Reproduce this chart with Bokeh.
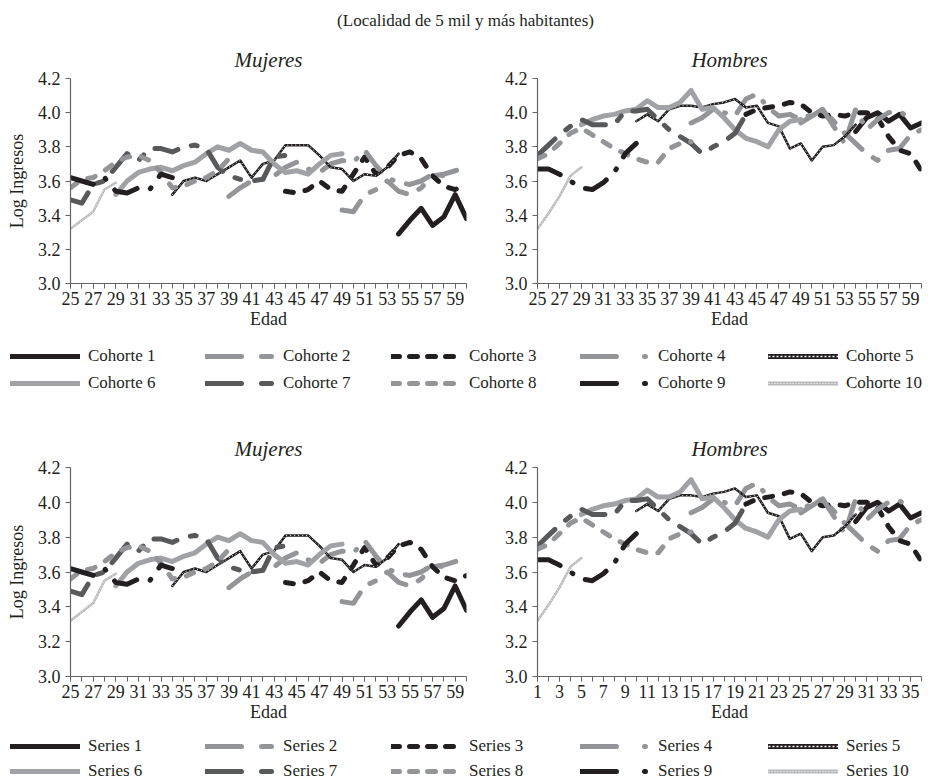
from bokeh.plotting import figure
from bokeh.models import Range1d, FixedTicker, PrintfTickFormatter, Legend, LegendItem, Label
from bokeh.layouts import column, row
from bokeh.embed import file_html
from bokeh.resources import INLINE

FONT = "Liberation Serif"
BLACK = "#231f20"
DGRAY = "#58595b"
LGRAY = "#939598"
LGRAY2 = "#a0a2a5"
PALE = "#b8babc"
AXIS = "#646567"

# ---------------- data ----------------
ages = list(range(25, 61))
cohort_start = [54, 49, 44, 39, 34, 29, 25, 25, 25, 25]
page_title = "(Localidad de 5 mil y más habitantes)"
panel_titles = ["Mujeres", "Hombres"]
y_ticks = [3.0, 3.2, 3.4, 3.6, 3.8, 4.0, 4.2]

# Mujeres, log income by age, one list per cohort (starting at cohort_start)
muj_c1 = [3.29, 3.37, 3.44, 3.34, 3.39, 3.52, 3.38]
muj_c2 = [3.43, 3.42, 3.52, 3.55, 3.60, 3.54, 3.52, 3.56, 3.63, 3.64, 3.66, 3.68]
muj_c3 = [3.54, 3.53, 3.55, 3.60, 3.55, 3.54, 3.64, 3.74, 3.64, 3.68, 3.75, 3.77, 3.73, 3.63, 3.57, 3.55, 3.58]
muj_c4 = [3.51, 3.56, 3.60, 3.61, 3.63, 3.68, 3.71, 3.67, 3.65, 3.70, 3.72, 3.71, 3.78, 3.69, 3.62, 3.59, 3.58, 3.60, 3.64, 3.63, 3.62]
muj_c5 = [3.52, 3.60, 3.62, 3.60, 3.64, 3.68, 3.72, 3.62, 3.70, 3.72, 3.81, 3.81, 3.81, 3.75, 3.68, 3.67, 3.60, 3.64, 3.63, 3.68, 3.76]
muj_c6 = [3.52, 3.60, 3.65, 3.67, 3.68, 3.66, 3.69, 3.71, 3.76, 3.80, 3.78, 3.82, 3.78, 3.77, 3.70, 3.65, 3.66, 3.64, 3.70, 3.75, 3.76]
muj_c7 = [3.49, 3.47, 3.58, 3.60, 3.68, 3.76, 3.72, 3.79, 3.79, 3.77, 3.80, 3.81, 3.79, 3.68, 3.63, 3.61, 3.60, 3.61, 3.74, 3.75]
muj_c8 = [3.56, 3.61, 3.62, 3.66, 3.71, 3.74, 3.75, 3.72, 3.65, 3.56, 3.57, 3.60, 3.62, 3.66, 3.73]
muj_c9 = [3.62, 3.60, 3.58, 3.62, 3.54, 3.53, 3.56, 3.55, 3.64, 3.62]
muj_c10 = [3.32, 3.37, 3.42, 3.55, 3.59]

# Hombres
hom_c1 = [3.89, 3.97, 4.00, 3.95, 3.99, 3.91, 3.94]
hom_c2 = [3.94, 3.98, 4.02, 3.95, 3.88, 3.82, 3.76, 3.72, 3.78, 3.79, 3.87, 3.90]
hom_c3 = [3.99, 4.02, 4.03, 4.04, 4.06, 4.05, 4.00, 3.98, 3.99, 3.98, 4.00, 4.00, 3.97, 3.86, 3.78, 3.76, 3.66]
hom_c4 = [3.94, 3.97, 4.02, 4.00, 3.98, 4.08, 4.11, 4.03, 3.98, 3.99, 3.96, 3.99, 4.02, 3.92, 3.82, 4.02, 3.90, 3.96, 4.00, 4.01, 3.96]
hom_c5 = [3.95, 3.99, 3.95, 4.02, 4.04, 4.04, 4.03, 4.05, 4.06, 4.08, 4.03, 4.04, 3.94, 3.92, 3.79, 3.82, 3.72, 3.80, 3.81, 3.86, 3.93]
hom_c6 = [3.93, 3.96, 3.98, 3.99, 4.01, 4.02, 4.07, 4.03, 4.03, 4.06, 4.13, 4.02, 4.03, 3.97, 3.90, 3.85, 3.83, 3.80, 3.90, 3.95, 3.96]
hom_c7 = [3.75, 3.81, 3.87, 3.92, 3.96, 3.93, 3.93, 3.93, 4.01, 4.01, 4.02, 3.96, 3.90, 3.86, 3.82, 3.76, 3.80, 3.83, 3.88, 3.99]
hom_c8 = [3.73, 3.76, 3.82, 3.88, 3.91, 3.87, 3.83, 3.79, 3.76, 3.73, 3.71, 3.71, 3.79, 3.82, 3.83]
hom_c9 = [3.67, 3.67, 3.64, 3.60, 3.56, 3.55, 3.59, 3.65, 3.76, 3.82]
hom_c10 = [3.32, 3.41, 3.51, 3.63, 3.68]

mujeres = [muj_c1, muj_c2, muj_c3, muj_c4, muj_c5, muj_c6, muj_c7, muj_c8, muj_c9, muj_c10]
hombres = [hom_c1, hom_c2, hom_c3, hom_c4, hom_c5, hom_c6, hom_c7, hom_c8, hom_c9, hom_c10]

legend_top = ["Cohorte %d" % (i + 1) for i in range(10)]
legend_bottom = ["Series %d" % (i + 1) for i in range(10)]

# ---------------- styles ----------------
STYLES = [
    dict(color=BLACK, width=5, dash="solid"),
    dict(color=LGRAY, width=5, dash="24 14 6 14"),
    dict(color=BLACK, width=5, dash="8 12"),
    dict(color=LGRAY, width=5, dash="24 14 1 14"),
    dict(color=BLACK, width=2.5, dash="solid", overlay=("white", 1, "1 3")),
    dict(color=LGRAY2, width=5, dash="solid"),
    dict(color=DGRAY, width=5, dash="24 14 6 14"),
    dict(color=LGRAY, width=5, dash="8 12"),
    dict(color=BLACK, width=5, dash="24 14 1 14"),
    dict(color=PALE, width=2.5, dash="solid", overlay=("white", 0.8, "1 2")),
]
LEG_STYLES = [dict(s) for s in STYLES]
LEG_STYLES[1] = dict(color=LGRAY, width=5, dash="36 20 10 20")
LEG_STYLES[2] = dict(color=BLACK, width=5, dash="8 10")
LEG_STYLES[3] = dict(color=LGRAY, width=5, dash="36 28 1 20")
LEG_STYLES[4] = dict(color=BLACK, width=5, dash="solid", overlay=("white", 1.5, "2 2"))
LEG_STYLES[6] = dict(color=DGRAY, width=5, dash="36 20 10 20")
LEG_STYLES[7] = dict(color=LGRAY, width=5, dash="8 10")
LEG_STYLES[8] = dict(color=BLACK, width=5, dash="36 28 1 20")
LEG_STYLES[9] = dict(color=PALE, width=4, dash="solid", overlay=("white", 1.2, "1 2"))


def draw(p, xs, ys, st):
    rs = [p.line(xs, ys, line_color=st["color"], line_width=st["width"],
                 line_dash=st["dash"], line_cap="round", line_join="round")]
    if "overlay" in st:
        c, w, d = st["overlay"]
        rs.append(p.line(xs, ys, line_color=c, line_width=w, line_dash=d, line_join="round"))
    return rs


def make_panel(title, series, index_axis, width, height, bl, br, bt, bb, ylabel):
    if index_axis:
        xvals = list(range(1, len(ages) + 1))
    else:
        xvals = ages
    p = figure(width=width, height=height, x_range=Range1d(xvals[0], xvals[-1]),
               y_range=Range1d(3.0, 4.2), output_backend="svg", toolbar_location=None,
               min_border_left=bl, min_border_right=br, min_border_top=bt, min_border_bottom=bb)
    p.title.text = title
    p.title.text_font = FONT
    p.title.text_font_style = "italic"
    p.title.text_font_size = "21px"
    p.title.text_color = BLACK
    p.title.align = "center"
    p.title.standoff = 14
    p.xgrid.visible = False
    p.ygrid.visible = False
    p.outline_line_color = None
    for i, vals in enumerate(series):
        i0 = cohort_start[i] - ages[0]
        xs = xvals[i0:i0 + len(vals)]
        draw(p, xs, vals, STYLES[i])
    p.xaxis.ticker = FixedTicker(ticks=xvals[::2], minor_ticks=xvals)
    p.yaxis.ticker = FixedTicker(ticks=y_ticks, minor_ticks=[])
    p.yaxis.formatter = PrintfTickFormatter(format="%.1f")
    for ax in (p.xaxis, p.yaxis):
        ax.axis_line_color = AXIS
        ax.axis_line_width = 1.2
        ax.major_tick_line_color = AXIS
        ax.minor_tick_line_color = AXIS
        ax.major_tick_out = 5
        ax.major_tick_in = 0
        ax.minor_tick_out = 5
        ax.minor_tick_in = 0
        ax.major_label_text_font = FONT
        ax.major_label_text_font_size = "18px"
        ax.major_label_text_color = BLACK
        ax.axis_label_text_font = FONT
        ax.axis_label_text_font_size = "18px"
        ax.axis_label_text_color = BLACK
        ax.axis_label_text_font_style = "normal"
    p.xaxis.major_label_standoff = 3
    p.xaxis.axis_label = "Edad"
    p.xaxis.axis_label_standoff = 1
    p.yaxis.major_label_standoff = 5
    if ylabel:
        p.yaxis.axis_label = "Log Ingresos"
        p.yaxis.axis_label_standoff = 8
    return p


def make_legend(labels, height, row_centers):
    f = figure(width=927, height=height, x_range=Range1d(0, 1), y_range=Range1d(0, 1),
               output_backend="svg", toolbar_location=None,
               x_axis_location=None, y_axis_location=None,
               min_border_left=0, min_border_right=0, min_border_top=0, min_border_bottom=0)
    f.xgrid.visible = False
    f.ygrid.visible = False
    f.outline_line_color = None
    col_x = [10, 205, 391, 580, 768]
    for i in range(10):
        rs = draw(f, [-5, -4], [-5, -5], LEG_STYLES[i])
        c = i % 5
        r = i // 5
        leg = Legend(items=[LegendItem(label=labels[i], renderers=rs)],
                     location=(col_x[c], height - row_centers[r] - 10.5),
                     orientation="horizontal", border_line_color=None,
                     background_fill_alpha=0, padding=0, margin=0, spacing=0,
                     glyph_width=70, glyph_height=20, label_standoff=8,
                     label_height=20, label_text_font=FONT,
                     label_text_font_size="17px", label_text_color=BLACK)
        f.add_layout(leg)
    return f


title_fig = figure(width=927, height=38, x_range=Range1d(0, 927), y_range=Range1d(0, 38),
                   output_backend="svg", toolbar_location=None,
                   x_axis_location=None, y_axis_location=None,
                   min_border_left=0, min_border_right=0, min_border_top=0, min_border_bottom=0)
title_fig.xgrid.visible = False
title_fig.ygrid.visible = False
title_fig.outline_line_color = None
title_fig.add_layout(Label(x=465, y=18, text=page_title, text_align="center",
                           text_baseline="middle", text_font=FONT,
                           text_font_size="17px", text_color=BLACK))

p1 = make_panel(panel_titles[0], mujeres, False, 470, 297, 70, 4, 40, 52, True)
p2 = make_panel(panel_titles[1], hombres, False, 457, 297, 67, 6, 40, 52, False)
leg1 = make_legend(legend_top, 60, [20, 47])
p3 = make_panel(panel_titles[0], mujeres, False, 470, 333, 70, 4, 72, 52, True)
p4 = make_panel(panel_titles[1], hombres, True, 457, 333, 67, 6, 72, 52, False)
leg2 = make_legend(legend_bottom, 53, [17, 42])

layout = column(title_fig, row(p1, p2), leg1, row(p3, p4), leg2)

open("out.html", "w").write(file_html(layout, INLINE))
